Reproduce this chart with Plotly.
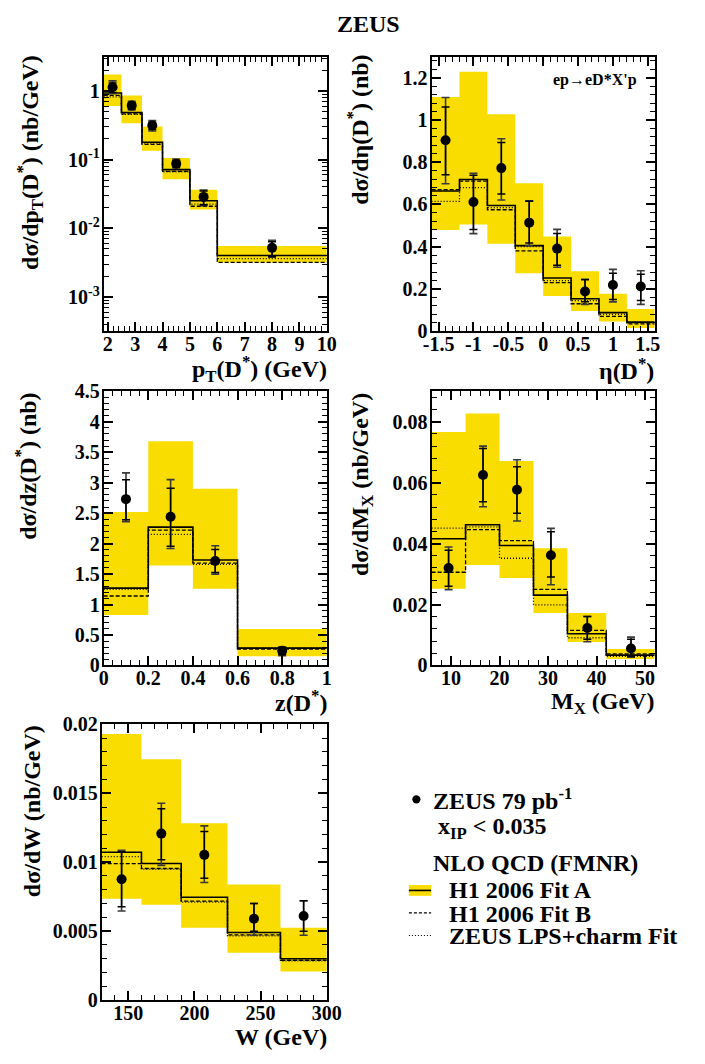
import plotly.graph_objects as go

W_PX, H_PX = 705, 1064
YEL = '#f9dc00'
FONT = 'Liberation Serif, Times New Roman, serif'

# ---------------- data ----------------
# pT(D*)
pt_edges = [1.85, 2.5, 3.25, 4, 5, 6, 10]
pt_x = [2.175, 2.875, 3.625, 4.5, 5.5, 8.0]
pt_y = [1.13, 0.61, 0.313, 0.0867, 0.0286, 0.00518]
pt_stat_up = [0.17, 0.064, 0.036, 0.010, 0.0063, 0.0012]
pt_stat_dn = [0.18, 0.063, 0.039, 0.009, 0.0066, 0.0013]
pt_tot_up = [0.27, 0.094, 0.056, 0.0153, 0.0075, 0.0015]
pt_tot_dn = [0.22, 0.081, 0.053, 0.0115, 0.0073, 0.0014]
pt_band_lo = [0.604, 0.337, 0.134, 0.0517, 0.0188, 0.00318]
pt_band_hi = [1.73, 0.858, 0.303, 0.1055, 0.0362, 0.0055]
pt_fitA = [0.93, 0.485, 0.179, 0.0714, 0.0251, 0.0040]
pt_fitB = [0.86, 0.464, 0.166, 0.0675, 0.0209, 0.00318]
pt_lps = [0.82, 0.454, 0.173, 0.066, 0.0225, 0.0036]

# eta(D*)
eta_edges = [-1.6, -1.2, -0.8, -0.4, 0, 0.4, 0.8, 1.2, 1.6]
eta_x = [-1.4, -1.0, -0.6, -0.2, 0.2, 0.6, 1.0, 1.4]
eta_y = [0.904, 0.612, 0.772, 0.514, 0.391, 0.188, 0.219, 0.212]
eta_stat_up = [0.157, 0.126, 0.121, 0.101, 0.072, 0.056, 0.056, 0.058]
eta_stat_dn = [0.163, 0.130, 0.123, 0.097, 0.079, 0.049, 0.069, 0.067]
eta_tot_up = [0.202, 0.136, 0.139, 0.103, 0.091, 0.058, 0.074, 0.074]
eta_tot_dn = [0.206, 0.150, 0.151, 0.109, 0.088, 0.061, 0.080, 0.085]
eta_band_lo = [0.479, 0.505, 0.414, 0.275, 0.167, 0.096, 0.046, 0.015]
eta_band_hi = [1.109, 1.228, 1.027, 0.700, 0.448, 0.284, 0.178, 0.105]
eta_fitA = [0.664, 0.718, 0.595, 0.405, 0.252, 0.154, 0.088, 0.043]
eta_fitB = [0.670, 0.710, 0.575, 0.380, 0.230, 0.130, 0.070, 0.035]
eta_lps = [0.615, 0.680, 0.585, 0.400, 0.240, 0.145, 0.080, 0.040]
eta_ticks = [-1.5, -1, -0.5, 0, 0.5, 1, 1.5]
eta_ticktext = ['-1.5', '-1', '-0.5', '0', '0.5', '1', '1.5']

# z(D*)
z_edges = [0, 0.2, 0.4, 0.6, 1.0]
z_x = [0.1, 0.3, 0.5, 0.8]
z_y = [2.73, 2.44, 1.714, 0.24]
z_stat_up = [0.32, 0.47, 0.19, 0.05]
z_stat_dn = [0.34, 0.485, 0.187, 0.06]
z_tot_up = [0.43, 0.61, 0.25, 0.065]
z_tot_dn = [0.37, 0.52, 0.214, 0.08]
z_band_lo = [0.83, 1.64, 1.26, 0.15]
z_band_hi = [2.52, 3.68, 2.90, 0.60]
z_fitA = [1.27, 2.27, 1.73, 0.284]
z_fitB = [1.14, 2.22, 1.68, 0.27]
z_lps = [1.25, 2.15, 1.66, 0.29]

# M_X
mx_edges = [6, 13, 20, 27, 34, 42, 52]
mx_x = [9.5, 16.6, 23.6, 30.6, 38.1, 47.1]
mx_y = [0.032, 0.0625, 0.0577, 0.0362, 0.0123, 0.0056]
mx_stat_up = [0.0058, 0.0087, 0.0075, 0.0077, 0.0038, 0.0030]
mx_stat_dn = [0.0060, 0.0088, 0.0077, 0.0072, 0.0037, 0.0027]
mx_tot_up = [0.0069, 0.0095, 0.0098, 0.0088, 0.0038, 0.0037]
mx_tot_dn = [0.0071, 0.0104, 0.0103, 0.0097, 0.0045, 0.0028]
mx_band_lo = [0.0252, 0.0330, 0.0287, 0.0172, 0.0077, 0.0021]
mx_band_hi = [0.0766, 0.0827, 0.0671, 0.0385, 0.0172, 0.0054]
mx_fitA = [0.0416, 0.0462, 0.0394, 0.0231, 0.0104, 0.0034]
mx_fitB = [0.0306, 0.0446, 0.0410, 0.0250, 0.0115, 0.0038]
mx_lps = [0.0451, 0.0455, 0.0352, 0.0199, 0.0091, 0.0030]

# W
w_edges = [130, 160, 190, 225, 265, 300]
w_x = [145, 175, 207.5, 245, 282.5]
w_y = [0.00876, 0.01207, 0.01053, 0.0059, 0.0061]
w_stat_up = [0.0020, 0.0018, 0.0017, 0.0011, 0.0011]
w_stat_dn = [0.0020, 0.0019, 0.0017, 0.0009, 0.0011]
w_tot_up = [0.0021, 0.0022, 0.0021, 0.0011, 0.0011]
w_tot_dn = [0.0023, 0.0023, 0.0020, 0.0012, 0.0014]
w_band_lo = [0.00734, 0.00691, 0.00525, 0.00343, 0.00208]
w_band_hi = [0.0193, 0.01747, 0.01283, 0.00838, 0.00525]
w_fitA = [0.01072, 0.0099, 0.00746, 0.0049, 0.0030]
w_fitB = [0.0099, 0.00954, 0.00717, 0.00473, 0.00289]
w_lps = [0.0104, 0.0095, 0.0071, 0.00466, 0.00284]

legend_labels = ['ZEUS 79 pb<sup>-1</sup>', 'x<sub>IP</sub> < 0.035', 'NLO QCD (FMNR)',
                 'H1 2006 Fit A', 'H1 2006 Fit B', 'ZEUS LPS+charm Fit']

# ---------------- figure ----------------
def px_x(p):
    return p / W_PX

def px_y(p):
    return 1 - p / H_PX

panels = [
    dict(edges=pt_edges, x=pt_x, y=pt_y, su=pt_stat_up, sd=pt_stat_dn, tu=pt_tot_up, td=pt_tot_dn,
         lo=pt_band_lo, hi=pt_band_hi, A=pt_fitA, B=pt_fitB, L=pt_lps,
         dom_x=(98, 329), dom_y=(46.5, 327)),
    dict(edges=eta_edges, x=eta_x, y=eta_y, su=eta_stat_up, sd=eta_stat_dn, tu=eta_tot_up, td=eta_tot_dn,
         lo=eta_band_lo, hi=eta_band_hi, A=eta_fitA, B=eta_fitB, L=eta_lps,
         dom_x=(437.5, 668.5), dom_y=(46.5, 327)),
    dict(edges=z_edges, x=z_x, y=z_y, su=z_stat_up, sd=z_stat_dn, tu=z_tot_up, td=z_tot_dn,
         lo=z_band_lo, hi=z_band_hi, A=z_fitA, B=z_fitB, L=z_lps,
         dom_x=(98, 329), dom_y=(388.3, 668.3)),
    dict(edges=mx_edges, x=mx_x, y=mx_y, su=mx_stat_up, sd=mx_stat_dn, tu=mx_tot_up, td=mx_tot_dn,
         lo=mx_band_lo, hi=mx_band_hi, A=mx_fitA, B=mx_fitB, L=mx_lps,
         dom_x=(437.5, 668.5), dom_y=(388.3, 668.3)),
    dict(edges=w_edges, x=w_x, y=w_y, su=w_stat_up, sd=w_stat_dn, tu=w_tot_up, td=w_tot_dn,
         lo=w_band_lo, hi=w_band_hi, A=w_fitA, B=w_fitB, L=w_lps,
         dom_x=(96, 329), dom_y=(728.3, 1010)),
]

fig = go.Figure()

for k, p in enumerate(panels, start=1):
    xa = 'x' if k == 1 else f'x{k}'
    ya = 'y' if k == 1 else f'y{k}'
    # yellow band
    bx, by = [], []
    for i in range(len(p['lo'])):
        bx += [p['edges'][i], p['edges'][i + 1], p['edges'][i + 1], p['edges'][i], p['edges'][i], None]
        by += [p['lo'][i], p['lo'][i], p['hi'][i], p['hi'][i], p['lo'][i], None]
    fig.add_trace(go.Scatter(x=bx, y=by, fill='toself', fillcolor=YEL, mode='lines',
                             line=dict(width=0, color=YEL), xaxis=xa, yaxis=ya, hoverinfo='skip'))
    # step curves
    for key, dash, wdt in [('L', '1px,2px', 1.3), ('B', '4px,2px', 1.3), ('A', 'solid', 1.6)]:
        vals = p[key]
        fig.add_trace(go.Scatter(x=p['edges'], y=list(vals) + [vals[-1]], mode='lines',
                                 line=dict(shape='hv', color='black', width=wdt, dash=dash),
                                 xaxis=xa, yaxis=ya, hoverinfo='skip'))
    # total errors
    fig.add_trace(go.Scatter(x=p['x'], y=p['y'], mode='markers', marker=dict(size=1, color='rgba(0,0,0,0)'),
                             error_y=dict(type='data', symmetric=False, array=p['tu'], arrayminus=p['td'],
                                          color='#3a3a3a', thickness=1.6, width=4),
                             xaxis=xa, yaxis=ya, hoverinfo='skip'))
    # stat errors + points
    fig.add_trace(go.Scatter(x=p['x'], y=p['y'], mode='markers', marker=dict(size=10, color='black'),
                             error_y=dict(type='data', symmetric=False, array=p['su'], arrayminus=p['sd'],
                                          color='black', thickness=1.5, width=4),
                             xaxis=xa, yaxis=ya, hoverinfo='skip'))

common = dict(showline=True, linewidth=2, linecolor='black', mirror='allticks', ticks='inside',
              ticklen=9, tickwidth=1.5, tickcolor='black', showgrid=False, zeroline=False,
              tickfont=dict(family=FONT, size=20, color='black', weight='bold'))

def minor(dt):
    return dict(ticks='inside', ticklen=5, tickwidth=1, tickcolor='black', dtick=dt, showgrid=False)

log_minor_vals = [m * 10 ** e for e in range(-4, 1) for m in range(2, 10)]

layout_axes = {
    'xaxis': dict(range=[1.85, 10], tick0=2, dtick=1, minor=minor(0.2)),
    'yaxis': dict(type='log', range=[-3.5, 0.5], tickvals=[0.001, 0.01, 0.1, 1],
                  ticktext=['10<sup>-3</sup>', '10<sup>-2</sup>', '10<sup>-1</sup>', '1'],
                  minor=dict(ticks='inside', ticklen=5, tickwidth=1, tickcolor='black',
                             tickvals=log_minor_vals, showgrid=False)),
    'xaxis2': dict(range=[-1.6, 1.6], tickvals=eta_ticks, ticktext=eta_ticktext, minor=minor(0.1)),
    'yaxis2': dict(range=[0, 1.3], tick0=0, dtick=0.2, minor=minor(0.04)),
    'xaxis3': dict(range=[0, 1], tick0=0, dtick=0.2, minor=minor(0.04)),
    'yaxis3': dict(range=[0, 4.5], tick0=0, dtick=0.5, minor=minor(0.1)),
    'xaxis4': dict(range=[6, 52], tick0=0, dtick=10, minor=minor(2)),
    'yaxis4': dict(range=[0, 0.09], tick0=0, dtick=0.02, minor=minor(0.004)),
    'xaxis5': dict(range=[130, 300], tick0=0, dtick=50, minor=minor(10)),
    'yaxis5': dict(range=[0, 0.02], tick0=0, dtick=0.005, minor=minor(0.001)),
}

for k, p in enumerate(panels, start=1):
    xs = 'xaxis' if k == 1 else f'xaxis{k}'
    ys = 'yaxis' if k == 1 else f'yaxis{k}'
    xd = [px_x(p['dom_x'][0]), px_x(p['dom_x'][1])]
    yd = [px_y(p['dom_y'][1]), px_y(p['dom_y'][0])]
    xa = dict(common); xa.update(layout_axes[xs])
    xa.update(domain=xd, anchor='y' if k == 1 else f'y{k}', ticklabelstandoff=-6)
    ya = dict(common); ya.update(layout_axes[ys])
    ya.update(domain=yd, anchor='x' if k == 1 else f'x{k}', ticklabelstandoff=-2)
    fig.layout[xs] = xa
    fig.layout[ys] = ya

ann = []
tf = dict(family=FONT, size=24, color='black', weight='bold')
# title
ann.append(dict(text='ZEUS', x=px_x(372), y=px_y(13), xanchor='center', yanchor='middle', font=tf))
# y titles
ytitles = [
    ('dσ/dp<sub>T</sub>(D<sup>*</sup>) (nb/GeV)', 21, 43),
    ('dσ/dη(D<sup>*</sup>) (nb)', 361, 43),
    ('dσ/dz(D<sup>*</sup>) (nb)', 18, 388),
    ('dσ/dM<sub>X</sub> (nb/GeV)', 366, 388),
    ('dσ/dW (nb/GeV)', 24, 727),
]
for t, x, y in ytitles:
    ann.append(dict(text=t, x=px_x(x), y=px_y(y), xanchor='center', yanchor='top', textangle=-90, font=tf))
xtitles = [
    ('p<sub>T</sub>(D<sup>*</sup>) (GeV)', 331, 366),
    ('η(D<sup>*</sup>)', 670, 366),
    ('z(D<sup>*</sup>)', 331, 705),
    ('M<sub>X</sub> (GeV)', 670, 707),
    ('W (GeV)', 331, 1048),
]
for t, x, y in xtitles:
    ann.append(dict(text=t, x=px_x(x), y=px_y(y), xanchor='right', yanchor='middle', font=tf))
# process label
ann.append(dict(text="ep→eD*X'p", x=px_x(561), y=px_y(70), xanchor='left', yanchor='middle',
                font=dict(family=FONT, size=16, color='black', weight='bold')))
# legend text
leg_pos = [(437, 805), (442, 834), (437, 870), (453, 898), (453, 922), (453, 945)]
for t, (x, y) in zip(legend_labels, leg_pos):
    ann.append(dict(text=t, x=px_x(x), y=px_y(y), xanchor='left', yanchor='middle', font=tf))
for a in ann:
    a.update(xref='paper', yref='paper', showarrow=False)
fig.update_layout(annotations=ann)

shapes = [
    dict(type='circle', x0=px_x(417.5), x1=px_x(426), y0=px_y(809.3), y1=px_y(800.7),
         fillcolor='black', line=dict(width=0)),
    dict(type='rect', x0=px_x(414), x1=px_x(437), y0=px_y(903.5), y1=px_y(892.5),
         fillcolor=YEL, line=dict(width=0)),
    dict(type='line', x0=px_x(414), x1=px_x(437), y0=px_y(898), y1=px_y(898),
         line=dict(color='black', width=1.6)),
    dict(type='line', x0=px_x(414), x1=px_x(437), y0=px_y(921), y1=px_y(921),
         line=dict(color='black', width=1.2, dash='3px,2px')),
    dict(type='line', x0=px_x(414), x1=px_x(437), y0=px_y(944), y1=px_y(944),
         line=dict(color='black', width=1.2, dash='1px,2px')),
]
for s in shapes:
    s.update(xref='paper', yref='paper')
fig.update_layout(shapes=shapes)

fig.update_layout(width=W_PX, height=H_PX, margin=dict(l=0, r=0, t=0, b=0),
                  paper_bgcolor='white', plot_bgcolor='white', showlegend=False,
                  font=dict(family=FONT, color='black'))

fig.write_html('out.html')
